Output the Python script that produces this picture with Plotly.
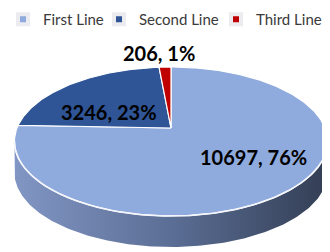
import numpy as np
import plotly.graph_objects as go

# ---- data ----
categories = ["First Line", "Second Line", "Third Line"]
values = [10697, 3246, 206]
colors = ["#8FAADC", "#2F5597", "#C00000"]

# ---- pseudo-3D pie geometry (page pixel space; page has an 8px body margin) ----
PAGE_W, PAGE_H, OFF = 330, 252, 8
W, H = PAGE_W - OFF, PAGE_H - OFF
cx, cy = 171.0, 128.0
R, K, k = 154.0, 72.05, 0.1812
D = 31.0


def proj(theta_deg, f=1.0, dy=0.0):
    t = np.radians(theta_deg)
    u = f * np.sin(t)
    v = f * np.cos(t)
    s = 1.0 / (1.0 + k * v)
    return cx + R * u * s, cy - K * v * s + dy


total = float(sum(values))
fracs = [v / total for v in values]
starts = np.concatenate([[0.0], np.cumsum(fracs)[:-1]]) * 360.0
ends = np.cumsum(fracs) * 360.0

fig = go.Figure()

# side wall (front, visible part)
t_l = np.degrees(np.arccos(-k))
t_r = 360.0 - t_l
arc = np.linspace(t_l, t_r, 200)
xt, yt = proj(arc)
xb, yb = proj(arc[::-1], dy=D)
fig.add_trace(go.Scatter(
    x=np.concatenate([xt, xb, xt[:1]]), y=np.concatenate([yt, yb, yt[:1]]),
    fill="toself", mode="lines", line=dict(width=0),
    fillgradient=dict(type="horizontal",
                      colorscale=[[0, "#8196c4"], [0.5, "#5b6e95"], [1, "#333e54"]]),
    hoverinfo="skip", showlegend=False))

# top face slices
for name, a0, a1, col in zip(categories, starts, ends, colors):
    n = max(int((a1 - a0) / 1.0), 4)
    th = np.linspace(a0, a1, n)
    xs, ys = proj(th)
    fig.add_trace(go.Scatter(
        x=np.concatenate([[cx], xs, [cx]]), y=np.concatenate([[cy], ys, [cy]]),
        fill="toself", fillcolor=col, mode="lines",
        line=dict(color="white", width=1.2),
        hoverinfo="skip", showlegend=False))

# front rim highlight
xr, yr = proj(np.linspace(t_l, t_r, 200))
fig.add_trace(go.Scatter(x=xr, y=yr, mode="lines",
                         line=dict(color="#f4f6fb", width=1.6),
                         hoverinfo="skip", showlegend=False))

# legend entries, one small legend per entry so each can be placed
legend_ids = ["legend", "legend2", "legend3"]
legend_text_x = [43, 139, 256]          # page x of legend text start
for name, col, lid in zip(categories, colors, legend_ids):
    fig.add_trace(go.Scatter(x=[None], y=[None], mode="markers", name=name,
                             legend=lid,
                             marker=dict(symbol="square", size=10, color=col,
                                         line=dict(color="#ececf0", width=4))))

leg_common = dict(orientation="h", y=1.02, xanchor="left", yanchor="top",
                  font=dict(family="Lato", size=15, color="#3a3a3a"),
                  bgcolor="rgba(0,0,0,0)", itemwidth=30)
legends = {}
for lid, tx in zip(legend_ids, legend_text_x):
    legends[lid] = dict(leg_common, x=(tx - OFF - 40) / W)

# data labels
label_f = [0.66, 0.55, 1.22]
label_shift = [(5, 8), (-4.5, -9.5), (-5, 3)]
for v, p, a0, a1, f, (sx, sy) in zip(values, fracs, starts, ends, label_f, label_shift):
    lx, ly = proj((a0 + a1) / 2.0, f)
    fig.add_annotation(x=lx, y=ly, xref="x", yref="y", text=f"<b>{v}, {round(p*100)}%</b>",
                       showarrow=False, xshift=sx, yshift=sy,
                       font=dict(family="Lato", size=20, color="#000000"))

fig.update_layout(
    width=W, height=H, autosize=False,
    margin=dict(l=0, r=0, t=0, b=0, autoexpand=False),
    paper_bgcolor="white", plot_bgcolor="white",
    xaxis=dict(range=[OFF, PAGE_W], visible=False, fixedrange=True),
    yaxis=dict(range=[PAGE_H, OFF], visible=False, fixedrange=True),
    showlegend=True,
    **legends,
)

fig.write_html("out.html")
